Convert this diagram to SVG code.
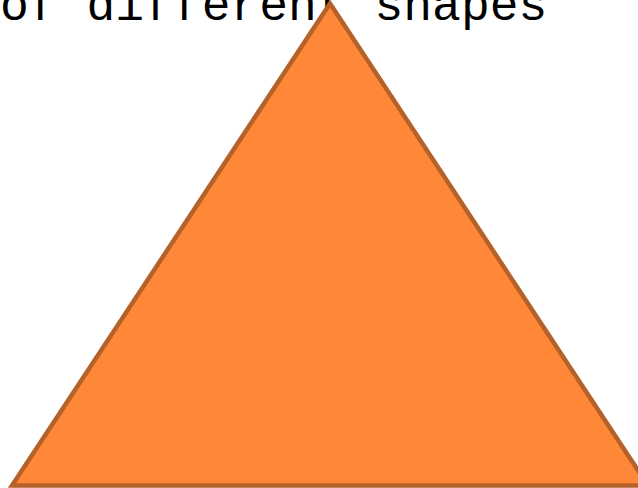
<svg xmlns="http://www.w3.org/2000/svg" width="638" height="488" viewBox="0 0 638 488">
<style>
.t{font-family:"Liberation Mono","Courier New",monospace;font-size:48px;fill:#000}
.tri{fill:#FF8838;stroke:#B5622A;stroke-width:4.5;stroke-linejoin:miter}
</style>
<rect width="638" height="488" fill="#fff"/>
<text class="t" x="0" y="20">of different shapes</text>
<g id="triangle">
<polygon class="tri" points="330,3.5 12,485.5 648,485.5"/>
</g>
</svg>
